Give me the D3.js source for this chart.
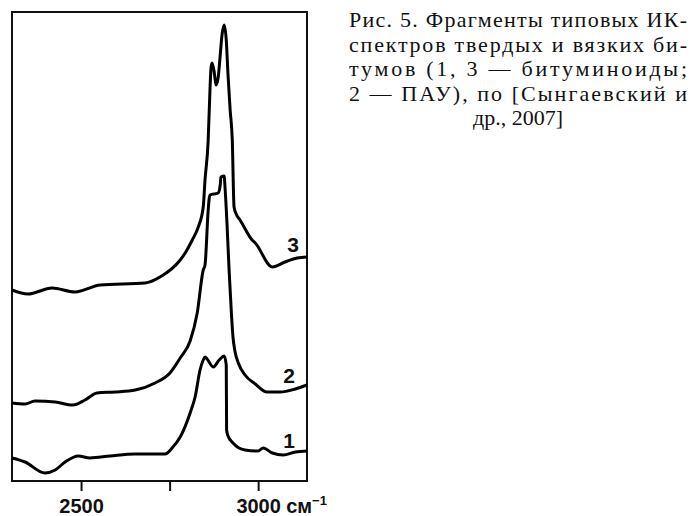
<!DOCTYPE html>
<html>
<head>
<meta charset="utf-8">
<script src="https://cdn.jsdelivr.net/npm/d3@7"></script>
<style>
  body { margin: 0; background: #fff; }
  svg { display: block; }
</style>
</head>
<body>
<div id="chart"></div>
<script>
// wavenumber (cm-1) and relative absorbance (arb. units)
const wn1 = [2305, 2342, 2398, 2427, 2455, 2492, 2525, 2582, 2653, 2737, 2757, 2780, 2808, 2822, 2836, 2845, 2850, 2856, 2873, 2890, 2904, 2910, 2911, 2915, 2929, 2963, 3000, 3014, 3040, 3071, 3105, 3138];
const ab1 = [23, 19, 8, 11, 19, 25, 23, 25, 27, 27, 33, 44, 68, 84, 111, 121, 124, 122, 114, 121, 125, 116, 51, 45, 38, 31, 30, 33, 28, 26, 29, 30];

const wn2 = [2305, 2342, 2370, 2427, 2477, 2511, 2545, 2596, 2653, 2709, 2751, 2780, 2808, 2828, 2845, 2850, 2859, 2862, 2864, 2887, 2893, 2895, 2904, 2907, 2912, 2918, 2924, 2929, 2935, 2944, 2963, 2992, 3025, 3062, 3105, 3138];
const ab2 = [78, 77, 80, 79, 76, 81, 88, 89, 91, 98, 108, 123, 140, 168, 211, 216, 271, 283, 286, 288, 296, 304, 305, 291, 258, 211, 171, 144, 129, 118, 106, 97, 89, 89, 92, 96];

const wn3 = [2305, 2350, 2418, 2483, 2554, 2681, 2723, 2780, 2794, 2814, 2831, 2845, 2850, 2859, 2864, 2867, 2870, 2876, 2881, 2887, 2893, 2898, 2904, 2910, 2915, 2921, 2927, 2932, 2938, 2949, 2983, 2992, 3040, 3076, 3110, 3138];
const ab3 = [191, 187, 193, 189, 196, 198, 204, 221, 228, 241, 254, 274, 301, 341, 391, 413, 418, 409, 396, 403, 426, 446, 456, 441, 406, 371, 341, 274, 267, 261, 241, 238, 214, 219, 223, 224];

const seriesNames = ["1", "2", "3"];
const tickValues = [2500, 2750, 3000];
const tickLabels = ["2500", "", "3000"];
const unitLabel = "см";
const unitPower = "−1";

const captionLines = [
    "Рис. 5. Фрагменты типовых ИК-",
    "спектров твердых и вязких би-",
    "тумов (1, 3 — битуминоиды;",
    "2 — ПАУ), по [Сынгаевский и",
    "др., 2007]"
];

const width = 691, height = 516;
const frame = { left: 12, top: 12, right: 307, bottom: 481 };

const svg = d3.select("#chart").append("svg")
    .attr("width", width)
    .attr("height", height);

const x = d3.scaleLinear()
    .domain([2305, 3138])
    .range([frame.left, frame.right]);

const y = d3.scaleLinear()
    .domain([0, 469])
    .range([frame.bottom, frame.top]);

const series = [
    { name: seriesNames[0], wn: wn1, ab: ab1 },
    { name: seriesNames[1], wn: wn2, ab: ab2 },
    { name: seriesNames[2], wn: wn3, ab: ab3 }
];

// frame
svg.append("rect")
    .attr("x", frame.left)
    .attr("y", frame.top)
    .attr("width", frame.right - frame.left)
    .attr("height", frame.bottom - frame.top)
    .attr("fill", "none")
    .attr("stroke", "#111")
    .attr("stroke-width", 2);

// axis ticks
const axis = d3.axisBottom(x)
    .tickValues(tickValues)
    .tickSize(10)
    .tickPadding(14)
    .tickFormat((d, i) => tickLabels[i]);

const gAxis = svg.append("g")
    .attr("transform", `translate(0,${frame.bottom})`)
    .call(axis);

gAxis.select(".domain").remove();
gAxis.selectAll(".tick line")
    .attr("stroke", "#111")
    .attr("stroke-width", 2);
gAxis.selectAll(".tick text")
    .attr("fill", "#111")
    .attr("dy", null)
    .attr("y", 32)
    .style("font-family", "'Liberation Sans', Arial, sans-serif")
    .style("font-size", "20px")
    .style("font-weight", "bold");

// unit after 3000
const unit = svg.append("text")
    .attr("x", x(3000) + 28)
    .attr("y", frame.bottom + 32)
    .attr("fill", "#111")
    .style("font-family", "'Liberation Sans', Arial, sans-serif")
    .style("font-size", "20px")
    .style("font-weight", "bold");
unit.append("tspan").text(unitLabel);
unit.append("tspan")
    .attr("dy", -8)
    .style("font-size", "13px")
    .text(unitPower);

// spectra
const line = d3.line()
    .x(d => x(d[0]))
    .y(d => y(d[1]))
    .curve(d3.curveMonotoneX);

svg.selectAll(".spectrum")
    .data(series)
    .enter()
    .append("path")
    .attr("class", "spectrum")
    .attr("d", s => line(d3.zip(s.wn, s.ab)))
    .attr("fill", "none")
    .attr("stroke", "#000")
    .attr("stroke-width", 3)
    .attr("stroke-linejoin", "round");

// curve numbers
const labelAt = [
    { wn: 3071, ab: 33 },
    { wn: 3071, ab: 98 },
    { wn: 3082, ab: 229 }
];

svg.selectAll(".curve-label")
    .data(series)
    .enter()
    .append("text")
    .attr("class", "curve-label")
    .attr("x", (s, i) => x(labelAt[i].wn))
    .attr("y", (s, i) => y(labelAt[i].ab))
    .text(s => s.name)
    .attr("fill", "#111")
    .style("font-family", "'Liberation Sans', Arial, sans-serif")
    .style("font-size", "21px")
    .style("font-weight", "bold");

// caption
const capLeft = 349, capRight = 687;
const caption = svg.append("g")
    .style("font-family", "'Liberation Serif', 'Times New Roman', serif")
    .style("font-size", "22px")
    .attr("fill", "#111");

captionLines.forEach((t, i) => {
    const txt = caption.append("text")
        .attr("y", 27 + i * 24.5)
        .text(t);
    if (i < captionLines.length - 1) {
        txt.attr("x", capLeft)
            .attr("textLength", capRight - capLeft)
            .attr("lengthAdjust", "spacing");
    } else {
        txt.attr("x", (capLeft + capRight) / 2)
            .attr("text-anchor", "middle");
    }
});
</script>
</body>
</html>
